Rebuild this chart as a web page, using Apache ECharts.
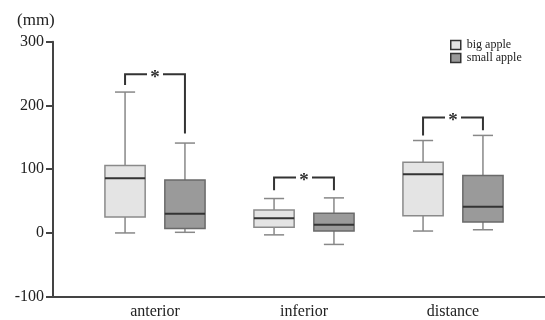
<!DOCTYPE html>
<html>
<head>
<meta charset="utf-8">
<script src="https://cdn.jsdelivr.net/npm/echarts@6/dist/echarts.min.js"></script>
<style>
    html, body { margin: 0; padding: 0; background: #fff; }
    #chart { width: 545px; height: 320px; }
</style>
</head>
<body>
<div id="chart"></div>
<script>
const categories = ["anterior", "inferior", "distance"];
const yTicks = [-100, 0, 100, 200, 300];

// big apple: min, Q1, median, Q3, max
const bigMin = [0, -3, 3];
const bigQ1 = [25, 9, 27];
const bigMedian = [86, 23, 92];
const bigQ3 = [106, 36, 111];
const bigMax = [221, 54, 145];

// small apple
const smallMin = [1, -18, 5];
const smallQ1 = [7, 3, 17];
const smallMedian = [30, 13, 41];
const smallQ3 = [83, 31, 90];
const smallMax = [141, 55, 153];

// significance brackets
const bracketTop = [249, 87, 181];
const bracketLeftEnd = [232, 67, 153];
const bracketRightEnd = [156, 67, 161];

const fontFamily = "Liberation Serif";
const colorAxis = "#444";
const colorText = "#222";

function boxData(mins, q1s, meds, q3s, maxs) {
    return categories.map((c, i) => [i, mins[i], q1s[i], meds[i], q3s[i], maxs[i]]);
}

// draws one box with whiskers; side is -1 (left) or 1 (right) within the category band
function makeBoxRenderer(side, fill, border) {
    return (params, api) => {
        const idx = api.value(0);
        const band = api.size([1, 0])[0];
        const cx = api.coord([idx, 0])[0] + side * band * 0.201;
        const half = band * 0.135;
        const cap = half / 2;
        const yMin = api.coord([idx, api.value(1)])[1];
        const yQ1 = api.coord([idx, api.value(2)])[1];
        const yMed = api.coord([idx, api.value(3)])[1];
        const yQ3 = api.coord([idx, api.value(4)])[1];
        const yMax = api.coord([idx, api.value(5)])[1];
        const whisker = { stroke: "#888", lineWidth: 1.5 };
        return {
            type: "group",
            children: [
                { type: "line", shape: { x1: cx, y1: yMax, x2: cx, y2: yQ3 }, style: whisker },
                { type: "line", shape: { x1: cx, y1: yQ1, x2: cx, y2: yMin }, style: whisker },
                { type: "line", shape: { x1: cx - cap, y1: yMax, x2: cx + cap, y2: yMax }, style: whisker },
                { type: "line", shape: { x1: cx - cap, y1: yMin, x2: cx + cap, y2: yMin }, style: whisker },
                {
                    type: "rect",
                    shape: { x: cx - half, y: yQ3, width: half * 2, height: yQ1 - yQ3 },
                    style: { fill: fill, stroke: border, lineWidth: 1.5 }
                },
                {
                    type: "line",
                    shape: { x1: cx - half, y1: yMed, x2: cx + half, y2: yMed },
                    style: { stroke: "#333", lineWidth: 2 }
                }
            ]
        };
    };
}

function renderBracket(params, api) {
    const idx = api.value(0);
    const band = api.size([1, 0])[0];
    const center = api.coord([idx, 0])[0];
    const xL = center - band * 0.201;
    const xR = center + band * 0.201;
    const yTop = api.coord([idx, api.value(1)])[1];
    const yL = api.coord([idx, api.value(2)])[1];
    const yR = api.coord([idx, api.value(3)])[1];
    const stroke = { stroke: "#333", lineWidth: 2, fill: null };
    return {
        type: "group",
        children: [
            { type: "polyline", shape: { points: [[xL, yL], [xL, yTop], [center - 8, yTop]] }, style: stroke },
            { type: "polyline", shape: { points: [[center + 8, yTop], [xR, yTop], [xR, yR]] }, style: stroke },
            {
                type: "text",
                style: {
                    text: "*", x: center, y: yTop + 4, align: "center", verticalAlign: "middle",
                    fontSize: 19, fontWeight: "bold", fontFamily: fontFamily, fill: "#333"
                }
            }
        ]
    };
}

const chart = echarts.init(document.getElementById("chart"));
chart.setOption({
    animation: false,
    title: {
        text: "(mm)",
        left: 12,
        top: 7,
        textStyle: { fontFamily: fontFamily, fontSize: 17, fontWeight: "normal", color: colorText }
    },
    legend: {
        orient: "vertical",
        left: 450,
        top: 39,
        padding: 0,
        itemWidth: 10,
        itemHeight: 9,
        itemGap: 1,
        icon: "rect",
        textStyle: { fontFamily: fontFamily, fontSize: 12, color: colorText, padding: [0, 0, 0, 1] },
        data: [
            { name: "big apple", itemStyle: { color: "#e4e4e4", borderColor: "#333", borderWidth: 1.5 } },
            { name: "small apple", itemStyle: { color: "#999", borderColor: "#333", borderWidth: 1.5 } }
        ]
    },
    grid: [
        { left: 80.5, right: 17.5, top: 41.7, bottom: 23.3 },
        { left: 53, right: 0, top: 41.7, bottom: 23.3 }
    ],
    xAxis: [
        {
            type: "category",
            gridIndex: 0,
            data: categories,
            axisLine: { show: false },
            axisTick: { show: false },
            axisLabel: { fontFamily: fontFamily, fontSize: 16, color: colorText, margin: 7 }
        },
        {
            type: "value",
            gridIndex: 1,
            axisLine: { show: true, onZero: false, lineStyle: { color: colorAxis, width: 2 } },
            axisTick: { show: false },
            axisLabel: { show: false },
            splitLine: { show: false }
        }
    ],
    yAxis: [
        {
            type: "value",
            gridIndex: 0,
            min: yTicks[0],
            max: yTicks[yTicks.length - 1],
            interval: 100,
            offset: 27.5,
            axisLine: { show: true, lineStyle: { color: colorAxis, width: 2 } },
            axisTick: { show: true, length: 7, lineStyle: { color: colorAxis, width: 2 } },
            axisLabel: { fontFamily: fontFamily, fontSize: 16, color: colorText, margin: 9 },
            splitLine: { show: false }
        },
        {
            type: "value",
            gridIndex: 1,
            show: false,
            min: yTicks[0],
            max: yTicks[yTicks.length - 1]
        }
    ],
    series: [
        {
            name: "big apple",
            type: "custom",
            xAxisIndex: 0,
            yAxisIndex: 0,
            itemStyle: { color: "#e4e4e4" },
            renderItem: makeBoxRenderer(-1, "#e4e4e4", "#8a8a8a"),
            data: boxData(bigMin, bigQ1, bigMedian, bigQ3, bigMax)
        },
        {
            name: "small apple",
            type: "custom",
            xAxisIndex: 0,
            yAxisIndex: 0,
            itemStyle: { color: "#999" },
            renderItem: makeBoxRenderer(1, "#9a9a9a", "#6a6a6a"),
            data: boxData(smallMin, smallQ1, smallMedian, smallQ3, smallMax)
        },
        {
            name: "brackets",
            type: "custom",
            xAxisIndex: 0,
            yAxisIndex: 0,
            renderItem: renderBracket,
            data: categories.map((c, i) => [i, bracketTop[i], bracketLeftEnd[i], bracketRightEnd[i]])
        }
    ]
});
</script>
</body>
</html>
